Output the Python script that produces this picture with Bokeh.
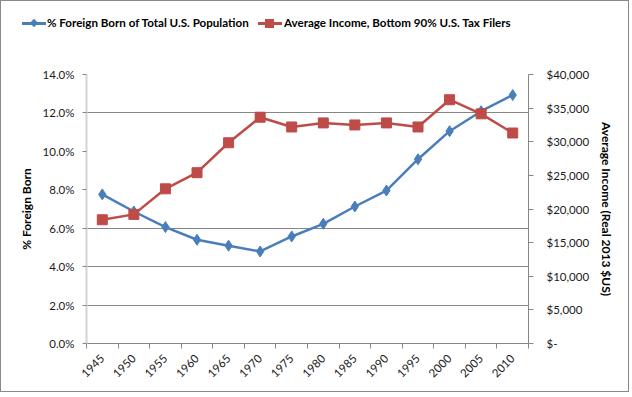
from bokeh.plotting import figure
from bokeh.layouts import column
from bokeh.models import (Range1d, LinearAxis, FixedTicker, Div,
                          PrintfTickFormatter, ColumnDataSource)
from bokeh.embed import file_html
from bokeh.resources import INLINE

years = [1945, 1950, 1955, 1960, 1965, 1970, 1975, 1980, 1985, 1990, 1995, 2000, 2005, 2010]
foreign_born_pct = [7.76, 6.87, 6.06, 5.40, 5.09, 4.79, 5.57, 6.23, 7.13, 7.96, 9.59, 11.05, 12.09, 12.93]
avg_income = [18400, 19200, 23000, 25400, 29850, 33650, 32200, 32800, 32500, 32800, 32200, 36250, 34150, 31300]

left_ticks = [0, 2, 4, 6, 8, 10, 12, 14]
right_ticks = [0, 5000, 10000, 15000, 20000, 25000, 30000, 35000, 40000]
right_tick_labels = ["$-", "$5,000", "$10,000", "$15,000", "$20,000", "$25,000", "$30,000", "$35,000", "$40,000"]
grid_ticks = [2, 4, 6, 12]

series1_name = "% Foreign Born of Total U.S. Population"
series2_name = "Average Income, Bottom 90% U.S. Tax Filers"

FONT = "Lato"
BLUE = "#4a7ebb"
RED = "#be4b48"
GRAY = "#868686"
LABEL = "#1a1a1a"

W = 627
LEG_H = 40
MAIN_H = 350

src = ColumnDataSource(dict(year=years, fb=foreign_born_pct, inc=avg_income))

p = figure(width=W, height=MAIN_H, output_backend="svg", toolbar_location=None,
           x_range=Range1d(1942.5, 2012.5), y_range=Range1d(0, 14),
           min_border_left=85, min_border_right=100, min_border_top=33, min_border_bottom=48)
p.extra_y_ranges = {"income": Range1d(0, 40000)}
p.outline_line_color = None
p.background_fill_color = "white"
p.border_fill_color = "white"

# x axis
xa = p.xaxis[0]
xa.ticker = FixedTicker(ticks=years, minor_ticks=[y - 2.5 for y in years] + [years[-1] + 2.5])
xa.major_tick_out = 0
xa.major_tick_in = 0
xa.minor_tick_out = 5
xa.minor_tick_in = 0
xa.minor_tick_line_color = GRAY
xa.axis_line_color = GRAY
xa.major_label_orientation = 0.785398
xa.major_label_text_font = FONT
xa.major_label_text_font_size = "11.5px"
xa.major_label_text_color = LABEL
xa.major_label_standoff = 8

# left axis
ya = p.yaxis[0]
ya.ticker = FixedTicker(ticks=left_ticks)
ya.formatter = PrintfTickFormatter(format="%.1f%%")
ya.axis_line_color = "#d4d4d4"
ya.axis_line_width = 2
ya.major_tick_out = 4
ya.major_tick_in = 0
ya.major_tick_line_color = GRAY
ya.minor_tick_line_color = None
ya.major_label_text_font = FONT
ya.major_label_text_font_size = "11.5px"
ya.major_label_text_color = LABEL
ya.major_label_standoff = 8
ya.axis_label = "% Foreign Born"
ya.axis_label_text_font = FONT
ya.axis_label_text_font_style = "bold"
ya.axis_label_text_font_size = "12px"
ya.axis_label_text_color = "#000000"
ya.axis_label_standoff = 6

# right axis
ra = LinearAxis(y_range_name="income", ticker=FixedTicker(ticks=right_ticks),
                major_label_overrides={t: l for t, l in zip(right_ticks, right_tick_labels)})
ra.axis_line_color = GRAY
ra.major_tick_out = 5
ra.major_tick_in = 0
ra.major_tick_line_color = GRAY
ra.minor_tick_line_color = None
ra.major_label_text_font = FONT
ra.major_label_text_font_size = "11.5px"
ra.major_label_text_color = LABEL
ra.major_label_standoff = 13
ra.axis_label = "Average Income (Real 2013 $US)"
ra.axis_label_text_font = FONT
ra.axis_label_text_font_style = "bold"
ra.axis_label_text_font_size = "12px"
ra.axis_label_text_color = "#000000"
ra.axis_label_standoff = 7
p.add_layout(ra, "right")

# grid
p.xgrid.visible = False
p.ygrid.ticker = FixedTicker(ticks=grid_ticks)
p.ygrid.grid_line_color = GRAY
p.ygrid.grid_line_width = 1

# series
p.line("year", "fb", source=src, line_color=BLUE, line_width=2.5)
p.scatter("year", "fb", source=src, marker="diamond", size=11, fill_color=BLUE, line_color=BLUE)
p.line("year", "inc", source=src, y_range_name="income", line_color=RED, line_width=2.5)
p.scatter("year", "inc", source=src, y_range_name="income", marker="square", size=10,
          fill_color=RED, line_color=RED)

# legend strip above the chart
def key(left, color, shape):
    line = (f'<div style="position:absolute;left:{left}px;top:21px;width:24px;height:2.5px;'
            f'background:{color}"></div>')
    if shape == "diamond":
        mark = (f'<div style="position:absolute;left:{left + 9}px;top:18.5px;width:6px;height:6px;'
                f'background:{color};transform:rotate(45deg)"></div>')
    else:
        mark = (f'<div style="position:absolute;left:{left + 7}px;top:18px;width:9px;height:9px;'
                f'background:{color}"></div>')
    return line + mark

def label(left, text):
    return (f'<span style="position:absolute;left:{left}px;top:14px;line-height:16px;'
            f'white-space:nowrap">{text}</span>')

legend_html = (
    f'<div style="position:relative;width:{W}px;height:{LEG_H}px;font-family:{FONT};'
    f'font-weight:bold;font-size:11.6px;color:#000">'
    + key(21, BLUE, "diamond") + label(46, series1_name)
    + key(257, RED, "square") + label(283, series2_name)
    + '</div>'
)
legend_div = Div(text=legend_html, width=W, height=LEG_H, margin=0,
                 styles={"background": "white"})

layout = column(legend_div, p, spacing=0)
layout.styles = {"border": "1px solid #8a8a8a", "background": "white"}

open("out.html", "w").write(file_html(layout, INLINE))
